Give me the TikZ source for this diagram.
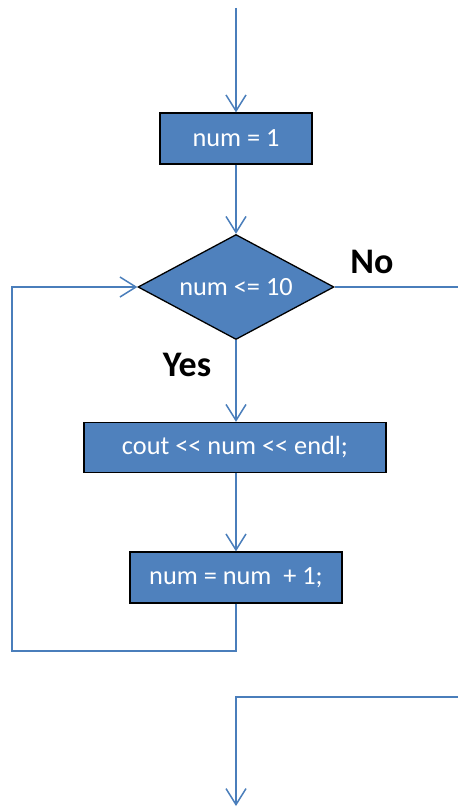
\documentclass[tikz,border=0pt]{standalone}
\usepackage{fontspec}
\setmainfont{Carlito}
\usetikzlibrary{shapes.geometric,arrows.meta}
\definecolor{boxblue}{HTML}{4F81BD}
\definecolor{flowline}{HTML}{4A7EBB}
\begin{document}
\begin{tikzpicture}[x=1pt,y=-1pt,
  procbox/.style={draw=black,line width=1.3pt,fill=boxblue,text=white,
    inner sep=0pt,font=\fontsize{26.3}{29}\selectfont},
  decision/.style={diamond,draw=black,line width=1.3pt,fill=boxblue,text=white,
    inner sep=0pt,minimum width=196pt,minimum height=105pt,aspect=1.867,
    font=\fontsize{26.3}{29}\selectfont},
  flow/.style={draw=flowline,line width=1.5pt},
  flowarrow/.style={flow,-{Straight Barb[length=16pt,width=20pt,line width=1.5pt]}},
  branch/.style={font=\bfseries\fontsize{36}{40}\selectfont,text=black}]
\useasboundingbox (0,0) rectangle (458,808);

% nodes
\node[procbox,minimum width=152pt,minimum height=51pt] (init) at (236,138.5) {num = 1};
\node[decision] (test) at (236,287) {num <{}= 10};
\node[procbox,minimum width=302pt,minimum height=50pt] (print) at (235,447.5) {cout <{}< num <{}< endl;};
\node[procbox,minimum width=212pt,minimum height=51pt] (incr) at (236,577.5) {num = num\ \ + 1;};

\node[branch] (nolabel) at (372,262) {No};
\node[branch] (yeslabel) at (187,365) {Yes};

% free ends of the connectors
\coordinate (start) at (236,8);
\coordinate (exitR) at (458,287);
\coordinate (loopA) at (236,651);
\coordinate (loopB) at (12,651);
\coordinate (loopC) at (12,287);
\coordinate (contR) at (458,697);
\coordinate (contM) at (236,697);
\coordinate (finish) at (236,806);

% connectors
\draw[flowarrow] (start) -- (init.north);
\draw[flowarrow] (init.south) -- (test.north);
\draw[flowarrow] (test.south) -- (print.north -| test.south);
\draw[flowarrow] (print.south -| incr.north) -- (incr.north);
\draw[flow] (test.east) -- (exitR);
\draw[flowarrow] (incr.south) -- (loopA) -- (loopB) -- (loopC) -- (test.west);
\draw[flowarrow] (contR) -- (contM) -- (finish);
\end{tikzpicture}
\end{document}
